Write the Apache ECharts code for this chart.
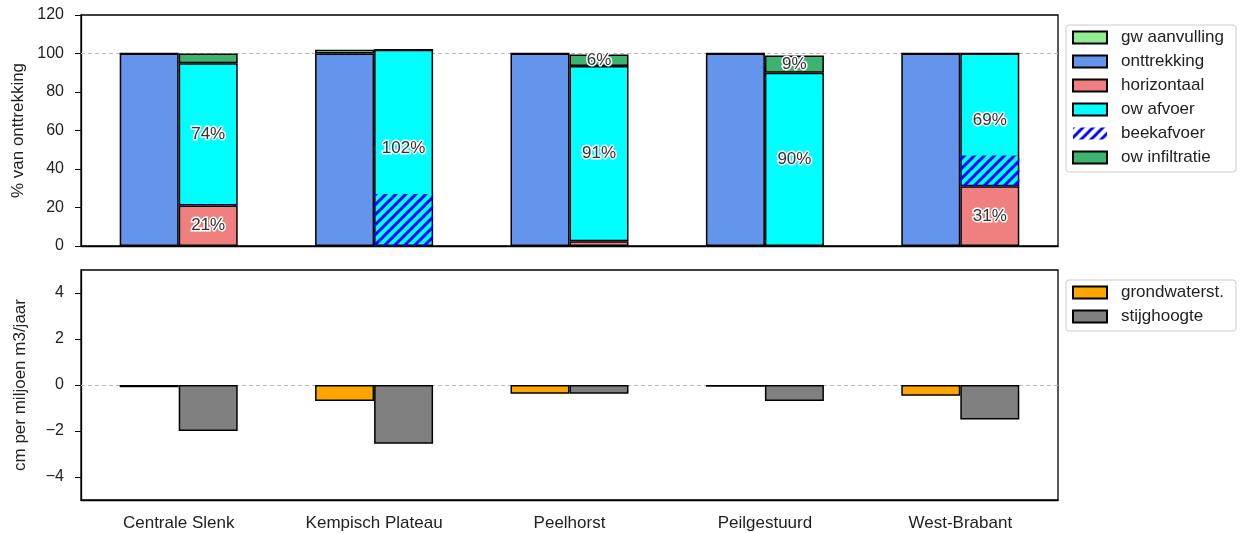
<!DOCTYPE html>
<html>
<head>
<meta charset="utf-8">
<script src="https://cdn.jsdelivr.net/npm/echarts@6/dist/echarts.min.js"></script>
<style>
  html, body { margin: 0; padding: 0; background: #fff; }
  #chart { width: 1240px; height: 533px; }
</style>
</head>
<body>
<div id="chart"></div>
<script>
// gebieden
const categories = ['Centrale Slenk', 'Kempisch Plateau', 'Peelhorst', 'Peilgestuurd', 'West-Brabant'];
// bovenste paneel: % van onttrekking
const onttrekking = [100, 100, 100, 100, 100];
const gwAanvulling = [0, 2, 0, 0, 0];
const horizontaal = [21, 0, 2.5, 0, 31];
const owAfvoer = [74, 102, 91, 90, 69];
const beekafvoer = [0.5, 27, 0, 0, 16];
const owInfiltratie = [5, 0, 6, 9, 0];
// onderste paneel: cm per miljoen m3/jaar
const grondwaterst = [-0.1, -0.7, -0.38, -0.08, -0.47];
const stijghoogte = [-2.0, -2.55, -0.38, -0.7, -1.5];
const lowerTicks = [-4, -2, 0, 2, 4];

const font = 'Liberation Sans, Arial, sans-serif';
const txt = '#222';
const barW = 59;
const edge = { borderColor: '#000', borderWidth: 1.5 };

// arcering voor beekafvoer
function hatch() {
  const c = document.createElement('canvas');
  c.width = 10; c.height = 10;
  const ctx = c.getContext('2d');
  ctx.strokeStyle = '#0000ff';
  ctx.lineWidth = 3;
  ctx.beginPath();
  [0, 10, 20].forEach(k => { ctx.moveTo(k - 12, 12); ctx.lineTo(k + 2, -2); });
  ctx.stroke();
  return c;
}

const pctLabel = {
  show: true,
  position: 'inside',
  formatter: p => p.value > 5 ? Math.round(p.value) + '%' : '',
  color: '#333',
  fontSize: 17,
  fontFamily: font,
  textBorderColor: '#fff',
  textBorderWidth: 3
};

const legendBase = {
  orient: 'vertical', left: 1066,
  itemWidth: 34, itemHeight: 12, itemGap: 7, icon: 'rect',
  textStyle: { fontSize: 17, color: txt, fontFamily: font, padding: [0, 0, 0, 9] },
  borderColor: '#ccc', borderWidth: 1, borderRadius: 3, padding: [4, 12, 6, 6],
  selectedMode: false
};

const chart = echarts.init(document.getElementById('chart'));

const option = {
  animation: false,
  textStyle: { fontFamily: font },
  grid: [
    { left: 81, right: 182, top: 15, height: 231, show: true, borderColor: '#000', borderWidth: 1.3, backgroundColor: 'transparent' },
    { left: 81, right: 182, top: 270, height: 230, show: true, borderColor: '#000', borderWidth: 1.3, backgroundColor: 'transparent' }
  ],
  legend: [
    Object.assign({}, legendBase, {
      top: 25,
      data: ['gw aanvulling', 'onttrekking', 'horizontaal', 'ow afvoer', 'beekafvoer', 'ow infiltratie']
    }),
    Object.assign({}, legendBase, {
      top: 280,
      data: ['grondwaterst.', 'stijghoogte']
    })
  ],
  xAxis: [
    { type: 'category', data: categories, gridIndex: 0,
      axisLine: { lineStyle: { color: '#000', width: 1.3 } },
      axisTick: { show: false }, axisLabel: { show: false } },
    { type: 'category', data: categories, gridIndex: 0, show: false },
    { type: 'category', data: categories, gridIndex: 1,
      axisLine: { onZero: false, lineStyle: { color: '#000', width: 1.3 } },
      axisTick: { alignWithLabel: true, length: 5, lineStyle: { color: '#000' } },
      axisLabel: { fontSize: 17, color: txt, margin: 15 } }
  ],
  yAxis: [
    { type: 'value', gridIndex: 0, min: 0, max: 120, interval: 20,
      name: '% van onttrekking', nameLocation: 'middle', nameGap: 52,
      nameTextStyle: { fontSize: 17, color: txt },
      axisLine: { show: true, lineStyle: { color: '#000', width: 1.3 } },
      axisTick: { show: true, length: 6, lineStyle: { color: '#000' } },
      axisLabel: { fontSize: 16, color: txt, margin: 17 },
      splitLine: { show: false } },
    { type: 'value', gridIndex: 1, min: -5, max: 5, interval: 1,
      name: 'cm per miljoen m3/jaar', nameLocation: 'middle', nameGap: 52,
      nameTextStyle: { fontSize: 17, color: txt },
      axisLine: { show: true, lineStyle: { color: '#000', width: 1.3 } },
      axisTick: { show: true, length: 6, customValues: lowerTicks, lineStyle: { color: '#000' } },
      axisLabel: { fontSize: 16, color: txt, margin: 17, customValues: lowerTicks,
        formatter: v => String(v).replace('-', '\u2212') },
      splitLine: { show: false } }
  ],
  series: [
    // referentielijnen
    { type: 'line', xAxisIndex: 0, yAxisIndex: 0, data: [], silent: true,
      markLine: { symbol: 'none', silent: true, z: 1, label: { show: false },
        lineStyle: { color: '#bbb', type: [4, 3], width: 1 }, data: [{ yAxis: 100 }] } },
    { type: 'line', xAxisIndex: 2, yAxisIndex: 1, data: [], silent: true,
      markLine: { symbol: 'none', silent: true, z: 1, label: { show: false },
        lineStyle: { color: '#bbb', type: [4, 3], width: 1 }, data: [{ yAxis: 0 }] } },

    // linker staaf
    { name: 'onttrekking', type: 'bar', xAxisIndex: 0, yAxisIndex: 0, stack: 'L',
      barWidth: barW, barGap: 0, data: onttrekking,
      itemStyle: Object.assign({ color: '#6495ED' }, edge) },
    { name: 'gw aanvulling', type: 'bar', xAxisIndex: 0, yAxisIndex: 0, stack: 'L',
      barWidth: barW, barGap: 0, data: gwAanvulling,
      itemStyle: Object.assign({ color: '#90EE90' }, edge) },
    // rechter staaf
    { name: 'horizontaal', type: 'bar', xAxisIndex: 0, yAxisIndex: 0, stack: 'R',
      barWidth: barW, barGap: 0, data: horizontaal, label: pctLabel,
      itemStyle: Object.assign({ color: '#F08080' }, edge) },
    { name: 'ow afvoer', type: 'bar', xAxisIndex: 0, yAxisIndex: 0, stack: 'R',
      barWidth: barW, barGap: 0, data: owAfvoer, label: pctLabel,
      itemStyle: Object.assign({ color: '#00FFFF' }, edge) },
    { name: 'ow infiltratie', type: 'bar', xAxisIndex: 0, yAxisIndex: 0, stack: 'R',
      barWidth: barW, barGap: 0, data: owInfiltratie, label: pctLabel,
      itemStyle: Object.assign({ color: '#3CB371' }, edge) },

    // beekafvoer als arcering over ow afvoer (tweede, verborgen x-as)
    { type: 'bar', xAxisIndex: 1, yAxisIndex: 0, stack: 'P', barWidth: barW, barGap: 0,
      data: categories.map(() => null), silent: true },
    { type: 'bar', xAxisIndex: 1, yAxisIndex: 0, stack: 'B', barWidth: barW, barGap: 0,
      data: horizontaal, silent: true, itemStyle: { color: 'transparent', borderWidth: 0 } },
    { name: 'beekafvoer', type: 'bar', xAxisIndex: 1, yAxisIndex: 0, stack: 'B',
      barWidth: barW, barGap: 0, data: beekafvoer,
      itemStyle: { color: { image: hatch(), repeat: 'repeat' }, borderWidth: 0 } },

    // onderste paneel
    { name: 'grondwaterst.', type: 'bar', xAxisIndex: 2, yAxisIndex: 1,
      barWidth: barW, barGap: 0, data: grondwaterst,
      itemStyle: Object.assign({ color: '#FFA500' }, edge) },
    { name: 'stijghoogte', type: 'bar', xAxisIndex: 2, yAxisIndex: 1,
      barWidth: barW, barGap: 0, data: stijghoogte,
      itemStyle: Object.assign({ color: '#808080' }, edge) }
  ]
};

chart.setOption(option);
</script>
</body>
</html>
